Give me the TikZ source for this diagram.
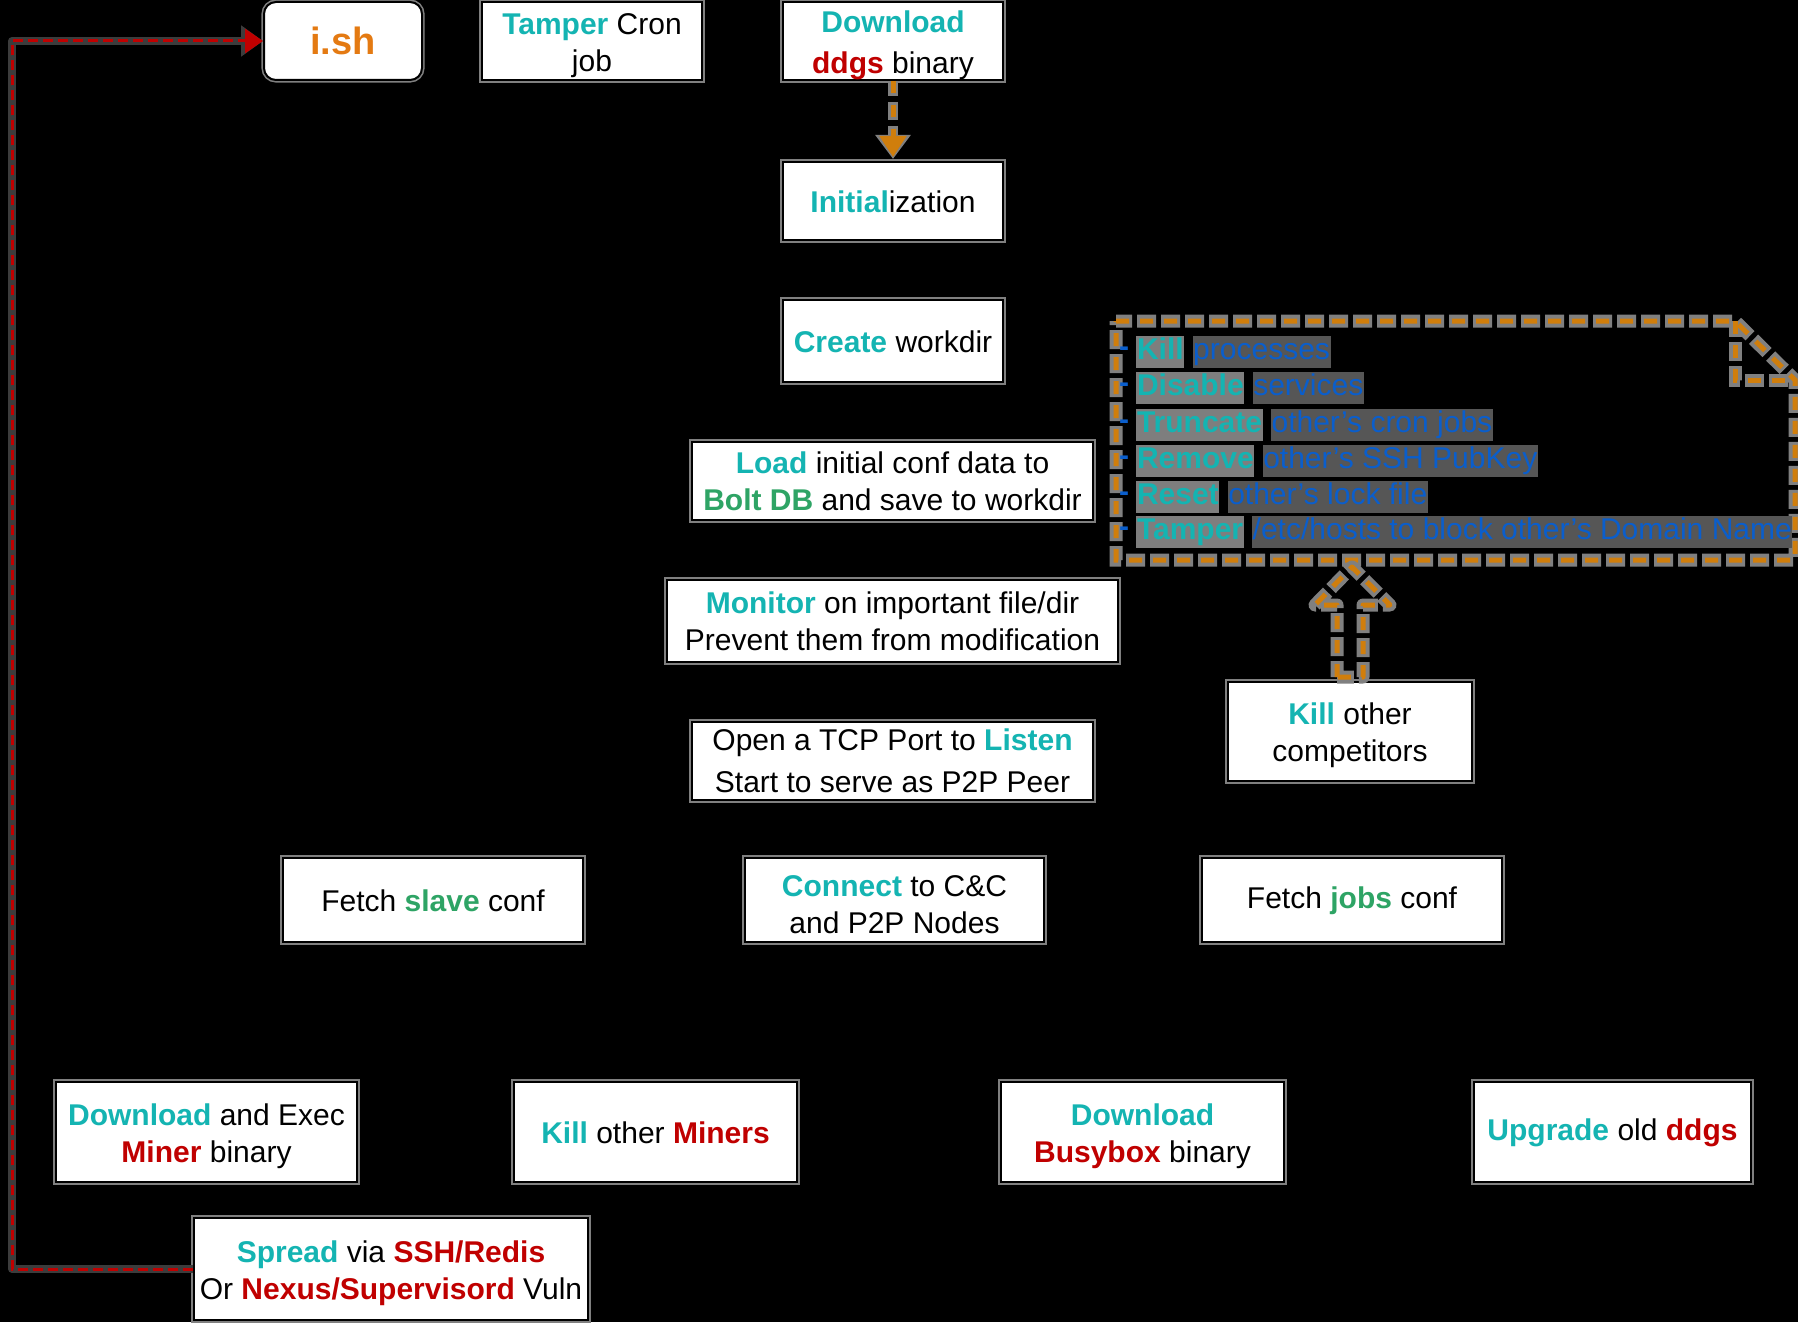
\documentclass[tikz,border=0pt]{standalone}
\usepackage{fontspec}
\setmainfont{Liberation Sans}
\usetikzlibrary{arrows.meta}

\definecolor{tealc}{HTML}{14B4B2}
\definecolor{redc}{HTML}{C00000}
\definecolor{greenc}{HTML}{2EA465}
\definecolor{ishc}{HTML}{E47A12}
\definecolor{dashc}{HTML}{D07E0C}
\definecolor{bluec}{HTML}{0A5ECC}
\definecolor{halo}{HTML}{808080}
\definecolor{halodark}{HTML}{3C3C3C}
\definecolor{hlA}{HTML}{7E7E7E}
\definecolor{hlB}{HTML}{565656}

% coloured keywords
\newcommand\kw[1]{\textbf{\textcolor{tealc}{#1}}}
\newcommand\kr[1]{\textbf{\textcolor{redc}{#1}}}
\newcommand\kg[1]{\textbf{\textcolor{greenc}{#1}}}
% first-line struts for one- and two-line box texts
\newcommand\onestrut{\rule{0pt}{12pt}}
\newcommand\twostrut{\rule{0pt}{15pt}}
% highlighted words of the competitor list
\newcommand\hstrut{\vrule height 11.6pt depth 3.9pt width 0pt}
\newcommand\hA[1]{{\fboxsep=0.3pt\colorbox{hlA}{\hstrut\kw{#1}}}}
\newcommand\hB[1]{{\fboxsep=0.3pt\colorbox{hlB}{\hstrut\textcolor{bluec}{#1}}}}
% a box given by its corners: x1,y1,x2,y2, name, extra options, text
\newcommand\pbox[7]{\node[box,#6,minimum width={(#3-#1)*0.5pt},
  minimum height={(#4-#2)*0.5pt}] (#5) at ({(#1+#3)/2},{(#2+#4)/2}) {#7};}

\begin{document}
\begin{tikzpicture}[x=0.5pt,y=-0.5pt,
  box/.style={draw=black, line width=1pt, fill=white, inner sep=0pt,
    align=center, font=\fontsize{15}{18.5}\selectfont,
    preaction={draw=halo, line width=2.6pt}},
  orangedash/.style={dashc, line width=2.5pt, dash pattern=on 6.5pt off 5.5pt},
  orangehalo/.style={halo, line width=6.5pt, dash pattern=on 9.5pt off 2.5pt, dash phase=1.5pt},
  listitem/.style={anchor=west, inner sep=0pt, font=\fontsize{15}{18}\selectfont},
  bullet/.style={inner sep=0pt, text=bluec, font=\fontsize{15}{18}\selectfont\bfseries}]

% canvas
\useasboundingbox (0,0) rectangle (1798,1322);
\fill[black] (0,0) rectangle (1798,1322);

% top row
\pbox{264}{2}{422}{80}{ish}{rounded corners=6pt,
      font=\fontsize{19}{22}\selectfont\bfseries, text=ishc}{\onestrut i.sh}
\pbox{482}{2}{702}{80}{cron}{}{\twostrut\kw{Tamper} Cron\\job}
\pbox{783}{2}{1003}{80}{dl}{font=\fontsize{15}{20.5}\selectfont}
      {\twostrut\kw{Download}\\\kr{ddgs} binary}

% main column
\pbox{783}{162}{1003}{240}{init}{}{\onestrut\kw{Initial}ization}
\pbox{783}{300}{1003}{382}{wdir}{}{\onestrut\kw{Create} workdir}
\pbox{692}{442}{1093}{520}{load}{}
      {\kw{Load} initial conf data to\\\kg{Bolt DB} and save to workdir}
\pbox{667}{580}{1118}{662}{mon}{}
      {\kw{Monitor} on important file/dir\\Prevent them from modification}
\pbox{692}{722}{1093}{800}{tcp}{font=\fontsize{15}{21}\selectfont}
      {Open a TCP Port to \kw{Listen}\\Start to serve as P2P Peer}
\pbox{1228}{682}{1472}{781}{kcomp}{}{\twostrut\kw{Kill} other\\competitors}

% configuration row
\pbox{283}{858}{583}{942}{fslave}{}{\onestrut Fetch \kg{slave} conf}
\pbox{745}{858}{1044}{942}{conn}{}{\twostrut\kw{Connect} to C\&C\\and P2P Nodes}
\pbox{1202}{858}{1502}{942}{fjobs}{}{\onestrut Fetch \kg{jobs} conf}

% jobs row
\pbox{56}{1082}{357}{1182}{miner}{}{\twostrut\kw{Download} and Exec\\\kr{Miner} binary}
\pbox{514}{1082}{797}{1182}{kminer}{}{\onestrut\kw{Kill} other \kr{Miners}}
\pbox{1001}{1082}{1284}{1182}{bbox}{}{\twostrut\kw{Download}\\\kr{Busybox} binary}
\pbox{1474}{1082}{1751}{1182}{upg}{}{\onestrut\kw{Upgrade} old \kr{ddgs}}
\pbox{194}{1218}{588}{1320}{spread}{}
      {\twostrut\kw{Spread} via \kr{SSH/Redis}\\Or \kr{Nexus/Supervisord} Vuln}

% download -> initialization
\draw[halo, line width=5pt, dash pattern=on 9pt off 3pt, dash phase=1.5pt,
      -{Triangle[length=12pt,width=17pt]}, shorten >=1pt] (dl.south) -- (init.north);
\draw[dashc, line width=2.5pt, dash pattern=on 6pt off 6pt,
      -{Triangle[length=10.5pt,width=13pt]}, shorten >=2pt] (dl.south) -- (init.north);

% spreading loops back to the dropper script
\coordinate (loop) at (12,41);
\draw[halodark, line width=4pt, line join=round,
      -{Triangle[length=11pt,width=15pt]}] (spread.west) -| (loop) -- (ish.west);
\draw[redc, line width=1.5pt, dash pattern=on 5pt off 2.5pt,
      -{Triangle[length=9pt,width=12pt]}] (spread.west) -| (loop) -- (ish.west);

% note with folded corner listing the competitor clean-up
\draw[orangehalo] (1116,321) -- (1735,321) -- (1795,380) -- (1795,560) -- (1116,560) -- cycle;
\draw[orangehalo] (1735,321) -- (1735,380) -- (1795,380);
\draw[orangedash] (1116,321) -- (1735,321) -- (1795,380) -- (1795,560) -- (1116,560) -- cycle;
\draw[orangedash] (1735,321) -- (1735,380) -- (1795,380);

\node[bullet] (b1) at (1124,352) {-};
\node[bullet] (b2) at (1124,388) {-};
\node[bullet] (b3) at (1124,425) {-};
\node[bullet] (b4) at (1124,461) {-};
\node[bullet] (b5) at (1124,497) {-};
\node[bullet] (b6) at (1124,532) {-};
\node[listitem] (l1) at (1136,352) {\hA{Kill} \hB{processes}};
\node[listitem] (l2) at (1136,388) {\hA{Disable} \hB{services}};
\node[listitem] (l3) at (1136,425) {\hA{Truncate} \hB{other's cron jobs}};
\node[listitem] (l4) at (1136,461) {\hA{Remove} \hB{other's SSH PubKey}};
\node[listitem] (l5) at (1136,497) {\hA{Reset} \hB{other's lock file}};
\node[listitem] (l6) at (1136,532) {\hA{Tamper} \hB{/etc/hosts to block other's Domain Name}};

% hollow block arrow from the competitor killer to the note
\draw[orangehalo, line join=round] (1337,677) -- (1337,605) -- (1315,605) -- (1352,567)
      -- (1390,605) -- (1363,605) -- (1363,677) -- cycle;
\draw[orangedash, line join=round] (1337,677) -- (1337,605) -- (1315,605) -- (1352,567)
      -- (1390,605) -- (1363,605) -- (1363,677) -- cycle;

\end{tikzpicture}
\end{document}
